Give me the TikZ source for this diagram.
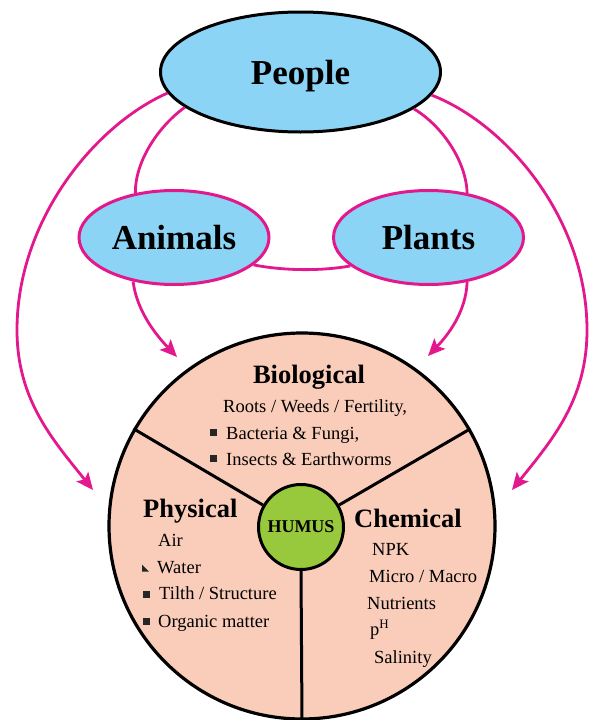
\documentclass[tikz,border=0pt]{standalone}
\usepackage{fontspec}
\setmainfont{Liberation Serif}
\usetikzlibrary{arrows.meta,shapes.geometric}
\definecolor{mag}{RGB}{226,24,140}
\definecolor{skyfill}{RGB}{140,212,245}
\definecolor{peach}{RGB}{249,205,186}
\definecolor{humusgreen}{RGB}{152,201,60}
\begin{document}
\begin{tikzpicture}[x=1pt,y=-1pt,
  oval/.style={ellipse, line width=3pt, fill=skyfill, inner sep=0pt, text depth=0pt,
    font=\bfseries\fontsize{35}{38}\selectfont},
  bigoval/.style={oval, draw=black, minimum width=280pt, minimum height=120pt},
  smalloval/.style={oval, draw=mag, minimum width=190pt, minimum height=94pt},
  link/.style={draw=mag, line width=2.8pt},
  flow/.style={link, -{Stealth[length=17pt,width=15pt,inset=3.5pt]}},
  title/.style={inner sep=0pt, font=\bfseries\fontsize{26.5}{28}\selectfont},
  item/.style={anchor=base west, inner sep=0pt, font=\fontsize{18.5}{20}\selectfont},
  divider/.style={line width=3pt, draw=black},
  bulletmark/.style={fill=black!85},
]
\useasboundingbox (0,0) rectangle (589,720);

% soil circle
\node[circle, draw, line width=3.2pt, fill=peach, minimum size=386pt, inner sep=0pt] (soil) at (302,526) {};
\node[circle, draw, line width=3pt, fill=humusgreen, minimum size=85pt, inner sep=0pt,
  font=\bfseries\fontsize{18}{20}\selectfont] (humus) at (301,527) {HUMUS};
\draw[divider] (humus.150) -- (soil.150);
\draw[divider] (humus.30) -- (soil.30);
\draw[divider] (humus.270) -- (soil.270);

% ovals
\node[bigoval] (people) at (300.5,72) {People};
\node[smalloval] (animals) at (174,237.5) {Animals};
\node[smalloval] (plants) at (428.5,237.5) {Plants};

% plain links
\draw[link] (people.197.2) .. controls (160,125) and (135,160) .. (animals.131.7);
\draw[link] (people.342.8) .. controls (441,125) and (466,160) .. (plants.49);
\draw[link] (animals.341.4) .. controls (285,271) and (322,271) .. (plants.200.6);

% arrows
\coordinate (tipA) at (177,357);
\coordinate (tipP) at (428,356);
\coordinate (tipL) at (93,490);
\coordinate (tipR) at (512,490);
\coordinate (midL) at (17,330);
\coordinate (midR) at (587,330);
\draw[flow] (animals.227.5) .. controls (137,312) and (157,336) .. (tipA);
\draw[flow] (plants.311.8) .. controls (466,312) and (448,335) .. (tipP);
\draw[flow] (people.189.4) .. controls (95,125) and (17,220) .. (midL)
  .. controls (17,400) and (53,440) .. (tipL);
\draw[flow] (people.350.4) .. controls (508,125) and (587,220) .. (midR)
  .. controls (587,400) and (552,440) .. (tipR);

% Biological
\node[title, anchor=base] (bio) at (309,383) {Biological};
\node[item] (roots) at (223,412) {Roots / Weeds / Fertility,};
\fill[bulletmark] (209.5,428.5) rectangle ++(7,7);
\node[item] (bact) at (226,439) {Bacteria \& Fungi,};
\fill[bulletmark] (209.5,454.5) rectangle ++(7,7);
\node[item] (insect) at (226,465) {Insects \& Earthworms};

% Physical
\node[title, anchor=base west] (phys) at (143,517) {Physical};
\node[item] (air) at (158,546) {Air};
\fill[bulletmark] (142,564.5) -- (142,571.5) -- (149,571.5) -- cycle;
\node[item] (water) at (157,573) {Water};
\fill[bulletmark] (142.5,590.5) rectangle ++(7,7);
\node[item] (tilth) at (159,599) {Tilth / Structure};
\fill[bulletmark] (142.5,617.5) rectangle ++(7,7);
\node[item] (organic) at (158,627) {Organic matter};

% Chemical
\node[title, anchor=base west] (chem) at (354,527) {Chemical};
\node[item] (npk) at (372,555) {NPK};
\node[item] (micro) at (369,582) {Micro / Macro};
\node[item] (nutr) at (367,609) {Nutrients};
\node[item] (ph) at (370,635) {p\textsuperscript{H}};
\node[item] (sal) at (374,663) {Salinity};
\end{tikzpicture}
\end{document}
